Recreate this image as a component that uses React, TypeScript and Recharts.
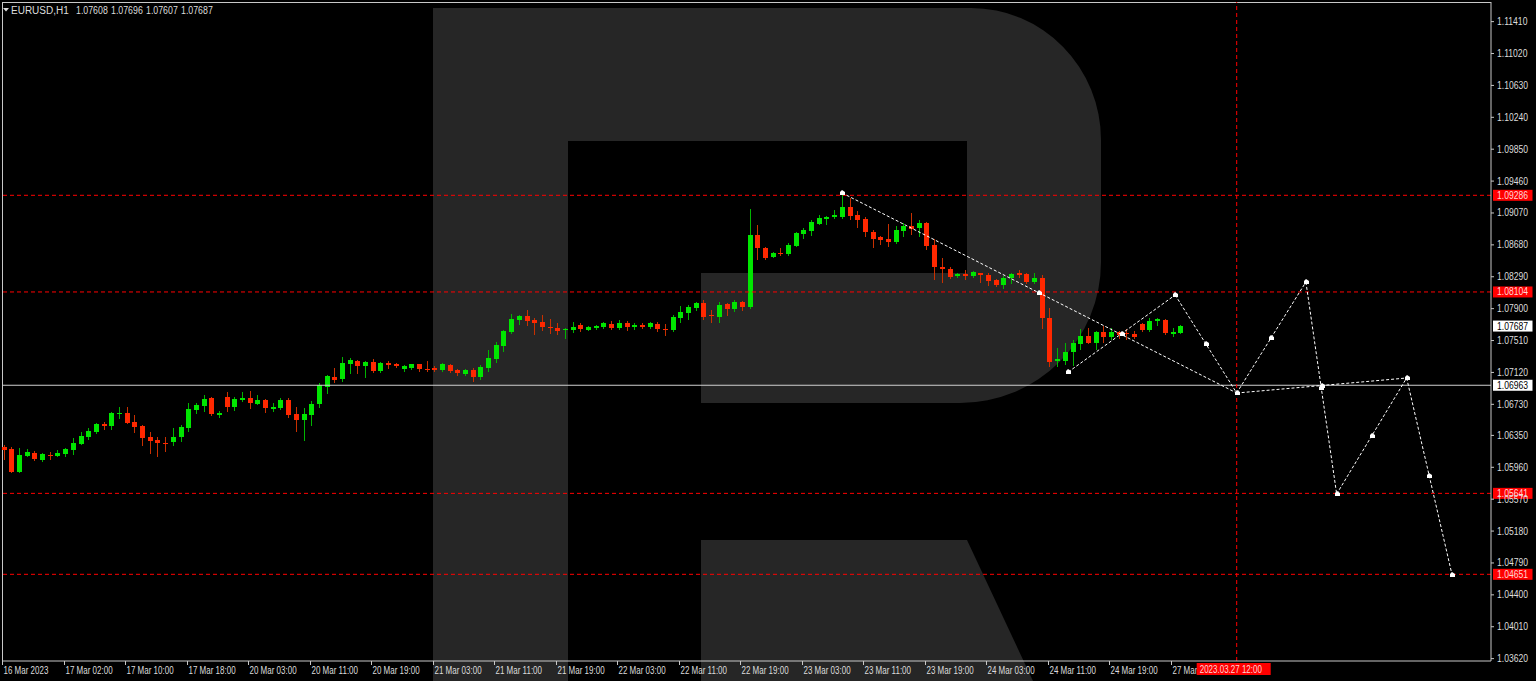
import React from 'react';
import { ComposedChart, Bar, XAxis, YAxis, ReferenceLine, ReferenceDot } from 'recharts';

// ---------------- DATA ----------------
const symbol = 'EURUSD,H1';

const opens = [
  1.06208, 1.06184, 1.05902, 1.06098, 1.06135, 1.06049, 1.06110, 1.06098, 1.06122, 1.06171,
  1.06245, 1.06330, 1.06392, 1.06489, 1.06465, 1.06612, 1.06624, 1.06514, 1.06465, 1.06330,
  1.06294, 1.06260, 1.06269, 1.06330, 1.06441, 1.06661, 1.06710, 1.06807, 1.06599, 1.06820,
  1.06697, 1.06783, 1.06807, 1.06734, 1.06783, 1.06673, 1.06685, 1.06783, 1.06612, 1.06538,
  1.06599, 1.06734, 1.06942, 1.07064, 1.07040, 1.07223, 1.07260, 1.07199, 1.07248, 1.07137,
  1.07235, 1.07223, 1.07162, 1.07174, 1.07223, 1.07164, 1.07174, 1.07150, 1.07211, 1.07150,
  1.07101, 1.07150, 1.07064, 1.07174, 1.07284, 1.07443, 1.07614, 1.07761, 1.07810, 1.07761,
  1.07737, 1.07676, 1.07664, 1.07639, 1.07639, 1.07700, 1.07639, 1.07664, 1.07676, 1.07712,
  1.07664, 1.07724, 1.07676, 1.07700, 1.07676, 1.07712, 1.07651, 1.07639, 1.07786, 1.07847,
  1.07908, 1.07969, 1.07822, 1.07798, 1.07957, 1.07896, 1.07981, 1.07920, 1.08801, 1.08642,
  1.08532, 1.08581, 1.08568, 1.08666, 1.08813, 1.08850, 1.08935, 1.08996, 1.09021, 1.09021,
  1.09143, 1.09045, 1.08996, 1.08837, 1.08776, 1.08752, 1.08715, 1.08850, 1.08911, 1.08886,
  1.08947, 1.08678, 1.08409, 1.08385, 1.08299, 1.08323, 1.08299, 1.08336, 1.08311, 1.08250,
  1.08189, 1.08274, 1.08336, 1.08323, 1.08226, 1.08274, 1.07786, 1.07260, 1.07260, 1.07370,
  1.07468, 1.07565, 1.07480, 1.07614, 1.07553, 1.07614, 1.07602, 1.07590, 1.07712, 1.07639,
  1.07749, 1.07761, 1.07590, 1.07608,
];

const highs = [
  1.06233, 1.06208, 1.06196, 1.06184, 1.06159, 1.06135, 1.06147, 1.06171, 1.06196, 1.06318,
  1.06392, 1.06441, 1.06502, 1.06514, 1.06636, 1.06697, 1.06697, 1.06599, 1.06471, 1.06392,
  1.06330, 1.06330, 1.06441, 1.06477, 1.06746, 1.06746, 1.06844, 1.06820, 1.06648, 1.06881,
  1.06820, 1.06881, 1.06893, 1.06844, 1.06789, 1.06746, 1.06807, 1.06807, 1.06697, 1.06685,
  1.06771, 1.06991, 1.07083, 1.07174, 1.07309, 1.07296, 1.07266, 1.07254, 1.07284, 1.07248,
  1.07260, 1.07235, 1.07205, 1.07229, 1.07229, 1.07260, 1.07199, 1.07235, 1.07217, 1.07156,
  1.07162, 1.07174, 1.07211, 1.07394, 1.07492, 1.07639, 1.07835, 1.07822, 1.07884, 1.07786,
  1.07822, 1.07773, 1.07724, 1.07664, 1.07737, 1.07724, 1.07682, 1.07694, 1.07737, 1.07749,
  1.07761, 1.07749, 1.07724, 1.07724, 1.07737, 1.07737, 1.07712, 1.07822, 1.07932, 1.07945,
  1.07981, 1.08006, 1.07884, 1.07981, 1.07963, 1.08006, 1.07994, 1.09119, 1.08923, 1.08654,
  1.08587, 1.08642, 1.08703, 1.08837, 1.08886, 1.08984, 1.09045, 1.09033, 1.09106, 1.09314,
  1.09253, 1.09094, 1.09021, 1.08862, 1.08789, 1.08935, 1.08911, 1.08947, 1.09070, 1.08984,
  1.08954, 1.08752, 1.08519, 1.08410, 1.08330, 1.08373, 1.08360, 1.08342, 1.08336, 1.08263,
  1.08299, 1.08336, 1.08373, 1.08336, 1.08336, 1.08311, 1.07908, 1.07419, 1.07480, 1.07517,
  1.07651, 1.07664, 1.07627, 1.07688, 1.07664, 1.07627, 1.07651, 1.07627, 1.07724, 1.07786,
  1.07780, 1.07773, 1.07664, 1.07696,
];

const lows = [
  1.06061, 1.05900, 1.05900, 1.06097, 1.06055, 1.06037, 1.06061, 1.06092, 1.06097, 1.06122,
  1.06239, 1.06306, 1.06379, 1.06428, 1.06428, 1.06563, 1.06496, 1.06392, 1.06233, 1.06135,
  1.06098, 1.06159, 1.06233, 1.06281, 1.06404, 1.06624, 1.06648, 1.06599, 1.06575, 1.06648,
  1.06661, 1.06771, 1.06685, 1.06728, 1.06636, 1.06648, 1.06673, 1.06575, 1.06404, 1.06294,
  1.06477, 1.06697, 1.06869, 1.07003, 1.07015, 1.07113, 1.07113, 1.07064, 1.07131, 1.07131,
  1.07174, 1.07186, 1.07137, 1.07168, 1.07137, 1.07137, 1.07137, 1.07137, 1.07125, 1.07089,
  1.07089, 1.07015, 1.07040, 1.07137, 1.07248, 1.07382, 1.07602, 1.07712, 1.07700, 1.07590,
  1.07639, 1.07602, 1.07590, 1.07541, 1.07614, 1.07627, 1.07633, 1.07651, 1.07664, 1.07651,
  1.07651, 1.07639, 1.07651, 1.07664, 1.07664, 1.07627, 1.07578, 1.07627, 1.07737, 1.07773,
  1.07884, 1.07773, 1.07737, 1.07737, 1.07822, 1.07871, 1.07884, 1.07908, 1.08507, 1.08513,
  1.08526, 1.08556, 1.08556, 1.08660, 1.08764, 1.08801, 1.08934, 1.08935, 1.09009, 1.09009,
  1.08996, 1.08899, 1.08789, 1.08654, 1.08691, 1.08666, 1.08703, 1.08789, 1.08813, 1.08789,
  1.08630, 1.08263, 1.08226, 1.08274, 1.08286, 1.08263, 1.08286, 1.08226, 1.08189, 1.08177,
  1.08153, 1.08214, 1.08286, 1.08214, 1.08214, 1.07664, 1.07199, 1.07199, 1.07223, 1.07211,
  1.07407, 1.07474, 1.07407, 1.07492, 1.07529, 1.07541, 1.07529, 1.07547, 1.07627, 1.07627,
  1.07700, 1.07596, 1.07565, 1.07607,
];

const closes = [
  1.06171, 1.05904, 1.06110, 1.06147, 1.06061, 1.06122, 1.06098, 1.06135, 1.06184, 1.06257,
  1.06343, 1.06404, 1.06489, 1.06465, 1.06624, 1.06624, 1.06502, 1.06453, 1.06318, 1.06281,
  1.06257, 1.06251, 1.06330, 1.06453, 1.06673, 1.06722, 1.06795, 1.06612, 1.06624, 1.06697,
  1.06795, 1.06807, 1.06746, 1.06783, 1.06685, 1.06697, 1.06783, 1.06599, 1.06538, 1.06612,
  1.06734, 1.06966, 1.07076, 1.07028, 1.07235, 1.07272, 1.07199, 1.07248, 1.07137, 1.07235,
  1.07211, 1.07199, 1.07199, 1.07223, 1.07162, 1.07156, 1.07150, 1.07223, 1.07137, 1.07113,
  1.07150, 1.07064, 1.07186, 1.07296, 1.07456, 1.07627, 1.07773, 1.07810, 1.07749, 1.07724,
  1.07676, 1.07664, 1.07627, 1.07651, 1.07676, 1.07651, 1.07676, 1.07688, 1.07724, 1.07664,
  1.07724, 1.07676, 1.07700, 1.07676, 1.07724, 1.07651, 1.07639, 1.07798, 1.07859, 1.07920,
  1.07969, 1.07798, 1.07810, 1.07945, 1.07896, 1.07981, 1.07920, 1.08801, 1.08642, 1.08519,
  1.08581, 1.08568, 1.08678, 1.08825, 1.08862, 1.08960, 1.09009, 1.09021, 1.09045, 1.09143,
  1.09033, 1.08984, 1.08837, 1.08752, 1.08740, 1.08715, 1.08862, 1.08911, 1.08874, 1.08947,
  1.08666, 1.08409, 1.08385, 1.08286, 1.08323, 1.08299, 1.08348, 1.08311, 1.08238, 1.08189,
  1.08274, 1.08323, 1.08311, 1.08226, 1.08274, 1.07786, 1.07248, 1.07284, 1.07370, 1.07480,
  1.07565, 1.07480, 1.07614, 1.07553, 1.07614, 1.07578, 1.07590, 1.07553, 1.07639, 1.07749,
  1.07773, 1.07602, 1.07614, 1.07687,
];

const timeLabels = [
  '16 Mar 2023', '17 Mar 02:00', '17 Mar 10:00', '17 Mar 18:00', '20 Mar 03:00',
  '20 Mar 11:00', '20 Mar 19:00', '21 Mar 03:00', '21 Mar 11:00', '21 Mar 19:00',
  '22 Mar 03:00', '22 Mar 11:00', '22 Mar 19:00', '23 Mar 03:00', '23 Mar 11:00',
  '23 Mar 19:00', '24 Mar 03:00', '24 Mar 11:00', '24 Mar 19:00', '27 Mar 03:00',
];

const priceTicks = [
  1.1141, 1.1102, 1.1063, 1.1024, 1.0985, 1.0946, 1.0907, 1.0868, 1.0829, 1.079, 1.0751,
  1.0712, 1.0673, 1.0635, 1.0596, 1.0557, 1.0518, 1.0479, 1.044, 1.0401, 1.0362,
];

const redLevels = [1.09286, 1.08104, 1.05641, 1.04651];
const whiteLevel = 1.06963;

// forecast pivot points (bar index, price)
const forecastBars = [109, 160.3, 138.4, 152.3, 169.3, 173.3, 182.4, 188.3];
const forecastPrices = [1.09314, 1.06868, 1.07125, 1.08067, 1.08226, 1.05633, 1.07052, 1.04648];
const forecastLinks = [[0, 1], [2, 3], [3, 1], [1, 4], [4, 5], [5, 6], [6, 7], [1, 6]];

const markerBar = 160.3;
const markerLabel = '2023.03.27 12:00';

// ---------------- LAYOUT / STYLE ----------------
const W = 1536;
const H = 681;
const LABEL_EVERY = 8;
const X_MIN = -0.26;
const X_MAX = 193.37;
const Y_MIN = 1.03591;
const Y_MAX = 1.1165;
const AXIS = '#c8c8c8';
const TXT = '#dcdcdc';
const FONT = '"Liberation Sans", Arial, sans-serif';
const BULL = '#00e600';
const BULL_WICK = '#00b400';
const BEAR = '#ff2800';
const BEAR_WICK = '#c83000';
const LOGO = '#262626';

const candles = opens.map((o, i) => ({
  i,
  o,
  h: highs[i],
  l: lows[i],
  c: closes[i],
  range: [lows[i], highs[i]],
}));

const labelBars = timeLabels.map((_, k) => k * LABEL_EVERY);
const axisTicks = [...labelBars, markerBar];
const last = candles[candles.length - 1];

const Candle = (props: any) => {
  const { x, y, width, height, payload } = props;
  if (x == null || y == null || !payload) return null;
  const top = Math.min(y, y + height);
  const bot = Math.max(y, y + height);
  const { o, h, l, c } = payload;
  const span = h - l || 1e-9;
  const toPx = (v: number) => top + ((h - v) / span) * (bot - top);
  const cx = Math.round(x + width / 2);
  const up = c >= o;
  const yo = toPx(o);
  const yc = toPx(c);
  const bt = Math.round(Math.min(yo, yc));
  let bb = Math.round(Math.max(yo, yc));
  if (bb - bt < 1) bb = bt + 1;
  return (
    <g>
      <line x1={cx + 0.5} x2={cx + 0.5} y1={Math.round(top)} y2={Math.round(bot) + 1} stroke={up ? BULL_WICK : BEAR_WICK} strokeWidth={1} />
      <rect x={cx - 2} y={bt} width={5} height={bb - bt} fill={up ? BULL : BEAR} />
    </g>
  );
};

const PriceTick = (props: any) => {
  const { x, y, payload } = props;
  return (
    <g transform={`translate(${x},${y}) scale(0.86,1)`}>
      <text x={0} y={3.5} fill={TXT} fontSize={10} fontFamily={FONT} textAnchor="start">
        {Number(payload.value).toFixed(5)}
      </text>
    </g>
  );
};

const TimeTick = (props: any) => {
  const { x, payload } = props;
  if (payload.value === markerBar) {
    // the vertical line's date tag, drawn last so it covers the neighbouring label
    return (
      <g>
        <rect x={x - 40} y={663} width={74} height={12} fill="#ff0000" />
        <g transform={`translate(${x - 37},${672.5}) scale(0.8,1)`}>
          <text x={0} y={0} fill="#ffd6d6" fontSize={10} fontFamily={FONT}>
            {markerLabel}
          </text>
        </g>
      </g>
    );
  }
  const k = Math.round(payload.value / LABEL_EVERY);
  const xx = Math.round(x) - 1.5;
  return (
    <g>
      <line x1={xx} x2={xx} y1={661} y2={665} stroke={AXIS} strokeWidth={1} />
      <g transform={`translate(${xx + 1},${674}) scale(0.8,1)`}>
        <text x={0} y={0} fill={TXT} fontSize={10} fontFamily={FONT} textAnchor="start">
          {timeLabels[k]}
        </text>
      </g>
    </g>
  );
};

const PriceTag = (props: any) => {
  const { viewBox, price, bg, fg } = props;
  if (!viewBox) return null;
  const ax = viewBox.x + viewBox.width;
  const ly = viewBox.y;
  return (
    <g>
      <rect x={ax + 2} y={ly - 5.5} width={39.5} height={11} fill={bg} />
      <g transform={`translate(${ax + 6},${ly + 3.5}) scale(0.86,1)`}>
        <text x={0} y={0} fill={fg} fontSize={10} fontFamily={FONT}>
          {Number(price).toFixed(5)}
        </text>
      </g>
    </g>
  );
};

const Marker = (props: any) => {
  const { cx, cy } = props;
  if (cx == null || cy == null) return null;
  const x = Math.round(cx);
  const y = Math.round(cy);
  return <path d={`M${x - 2},${y + 2} L${x - 2},${y - 1} L${x},${y - 3} L${x + 3},${y - 1} L${x + 3},${y + 2} Z`} fill="#ffffff" />;
};

const forecastSegments = forecastLinks.map(([a, b]) => ({
  a: { x: forecastBars[a], y: forecastPrices[a] },
  b: { x: forecastBars[b], y: forecastPrices[b] },
  m: { x: (forecastBars[a] + forecastBars[b]) / 2, y: (forecastPrices[a] + forecastPrices[b]) / 2 },
}));

const headerValues = [last.o, last.h, last.l, last.c];

export default function App() {
  return (
    <div style={{ position: 'absolute', left: 0, top: 0, width: W, height: H, background: '#000', overflow: 'hidden' }}>
      {/* background watermark + frame */}
      <svg width={W} height={H} style={{ position: 'absolute', left: 0, top: 0 }}>
        <path
          d="M433,681 L433,8 L971,8 A130,132 0 0 1 1101,140 L1101,262 A141,141 0 0 1 960,403 L701,403 L701,273 L967,273 L967,141 L568,141 L568,681 Z"
          fill={LOGO}
        />
        <path d="M701,540 L967,540 L1033,681 L701,681 Z" fill={LOGO} />
        <line x1={2} x2={1491} y1={2.5} y2={2.5} stroke={AXIS} strokeWidth={1} />
        <line x1={2.5} x2={2.5} y1={2} y2={661} stroke={AXIS} strokeWidth={1} />
      </svg>
      <div style={{ position: 'absolute', left: 0, top: 0 }}>
        <ComposedChart
          width={W}
          height={H}
          data={candles}
          margin={{ top: 2, right: 0, left: 2, bottom: 0 }}
        >
          <XAxis
            type="number"
            dataKey="i"
            domain={[X_MIN, X_MAX]}
            allowDataOverflow
            ticks={axisTicks}
            interval={0}
            height={20}
            axisLine={{ stroke: AXIS }}
            tickLine={false}
            tickSize={0}
            tickMargin={0}
            tick={<TimeTick />}
          />
          <YAxis
            orientation="right"
            type="number"
            domain={[Y_MIN, Y_MAX]}
            allowDataOverflow
            ticks={priceTicks}
            interval={0}
            width={45}
            axisLine={{ stroke: AXIS }}
            tickLine={{ stroke: AXIS }}
            tickSize={3}
            tickMargin={3}
            tick={<PriceTick />}
          />
          <Bar dataKey="range" barSize={5} isAnimationActive={false} shape={(p: any) => <Candle {...p} />} />
          <ReferenceLine y={whiteLevel} stroke="#d0d0d0" strokeWidth={1} label={<PriceTag price={whiteLevel} bg="#ffffff" fg="#000000" />} />
          {redLevels.map((v) => (
            <ReferenceLine key={v} y={v} stroke="#ff0000" strokeDasharray="4 3" label={<PriceTag price={v} bg="#ff0000" fg="#ffd6d6" />} />
          ))}
          <ReferenceLine x={markerBar} stroke="#ff0000" strokeDasharray="4 3" />
          {forecastSegments.map((s, k) => (
            <ReferenceLine key={`s${k}`} segment={[s.a, s.b]} stroke="#ffffff" strokeDasharray="3 2" strokeWidth={1} />
          ))}
          {forecastSegments.map((s, k) => (
            <ReferenceDot key={`m${k}`} x={s.m.x} y={s.m.y} r={3} shape={(p: any) => <Marker {...p} />} />
          ))}
          {forecastBars.map((b, k) => (
            <ReferenceDot key={`p${k}`} x={b} y={forecastPrices[k]} r={3} shape={(p: any) => <Marker {...p} />} />
          ))}
          <ReferenceLine y={last.c} stroke="none" strokeOpacity={0} label={<PriceTag price={last.c} bg="#ffffff" fg="#000000" />} />
        </ComposedChart>
      </div>
      {/* header */}
      <svg width={300} height={20} style={{ position: 'absolute', left: 0, top: 0 }}>
        <path d="M3,8 L9,8 L6,11.5 Z" fill={TXT} />
        <text x={11} y={14} fill={TXT} fontSize={10} fontFamily={FONT}>{symbol}</text>
        {headerValues.map((v, k) => (
          <g key={k} transform={`translate(${76 + k * 35},14) scale(0.88,1)`}>
            <text x={0} y={0} fill={TXT} fontSize={10} fontFamily={FONT}>{v.toFixed(5)}</text>
          </g>
        ))}
      </svg>
    </div>
  );
}
